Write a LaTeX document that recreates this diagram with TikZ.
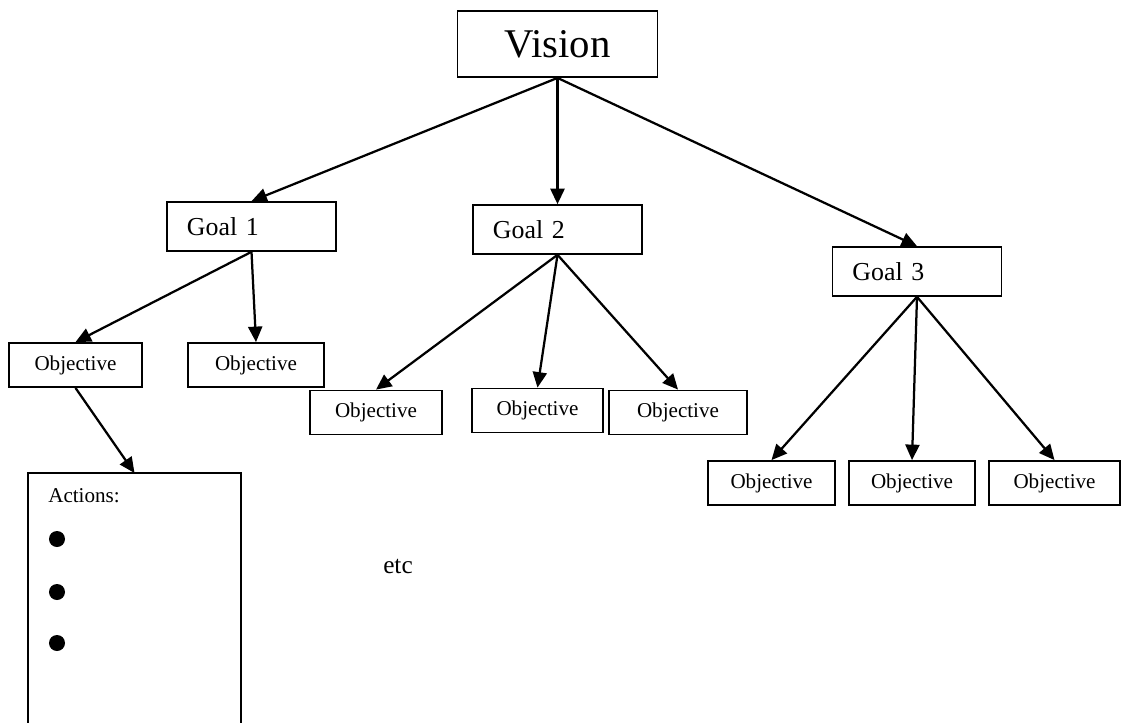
\documentclass[tikz,border=0pt]{standalone}
\usepackage{fontspec}
\setmainfont{Liberation Serif}
\usetikzlibrary{arrows.meta}

\tikzset{
  box/.style={draw,line width=1.3pt,inner sep=0pt,minimum height=1.1cm,font=\fontsize{15}{17}\selectfont},
  goalbox/.style={draw,line width=1.3pt,inner ysep=0pt,inner xsep=0.5cm,text width=3.225cm,align=left,minimum height=1.22cm,font=\fontsize{18.4}{20}\selectfont},
  link/.style={line width=1.6pt,-{Triangle[length=11pt,width=10pt]}},
  dot/.style={circle,fill,inner sep=0pt,minimum size=0.4cm}
}

\begin{document}
\begin{tikzpicture}[x=0.025cm,y=-0.025cm]
        \useasboundingbox (0,0) rectangle (1122,722);
        \clip (0,0) rectangle (1122,722);
        % Vision and goals
        \node[draw,line width=1.3pt,minimum width=5cm,minimum height=1.65cm,font=\fontsize{29}{32}\selectfont] (v) at (557.5,44) {Vision};
        \node[goalbox] (g1) at (251.5,226.5) {Goal 1};
        \node[goalbox] (g2) at (557.5,229.5) {Goal 2};
        \node[goalbox] (g3) at (917,271.5) {Goal 3};
        % Objectives
        \node[box,minimum width=3.325cm] (o11) at (75.5,365) {Objective};
        \node[box,minimum width=3.4cm] (o12) at (256,365) {Objective};
        \node[box,minimum width=3.3cm] (o21) at (376,412.5) {Objective};
        \node[box,minimum width=3.275cm] (o22) at (537.5,410.5) {Objective};
        \node[box,minimum width=3.45cm] (o23) at (678,412.5) {Objective};
        \node[box,minimum width=3.175cm] (o31) at (771.5,483) {Objective};
        \node[box,minimum width=3.15cm] (o32) at (912,483) {Objective};
        \node[box,minimum width=3.275cm] (o33) at (1054.5,483) {Objective};
        % Actions (runs off the bottom)
        \draw[line width=1.3pt] (28,760) |- (241,473) -- (241,760);
        \coordinate (act) at (134.5,473);
        \node[anchor=west,inner sep=0pt,font=\fontsize{15}{17}\selectfont] (al) at (48,496) {Actions:};
        \foreach \i/\y in {1/539,2/592,3/643}{
          \node[dot] (b\i) at (57,\y) {};
        }
        \node[font=\fontsize{18}{20}\selectfont] (etc) at (398,566) {etc};
        % Links
        \foreach \a/\b in {v/g1,v/g2,v/g3,g1/o11,g1/o12,g2/o21,g2/o22,g2/o23,g3/o31,g3/o32,g3/o33}{
          \draw[link] (\a.south) -- (\b.north);
        }
        \draw[link] (o11.south) -- (act);
      \end{tikzpicture}
\end{document}
